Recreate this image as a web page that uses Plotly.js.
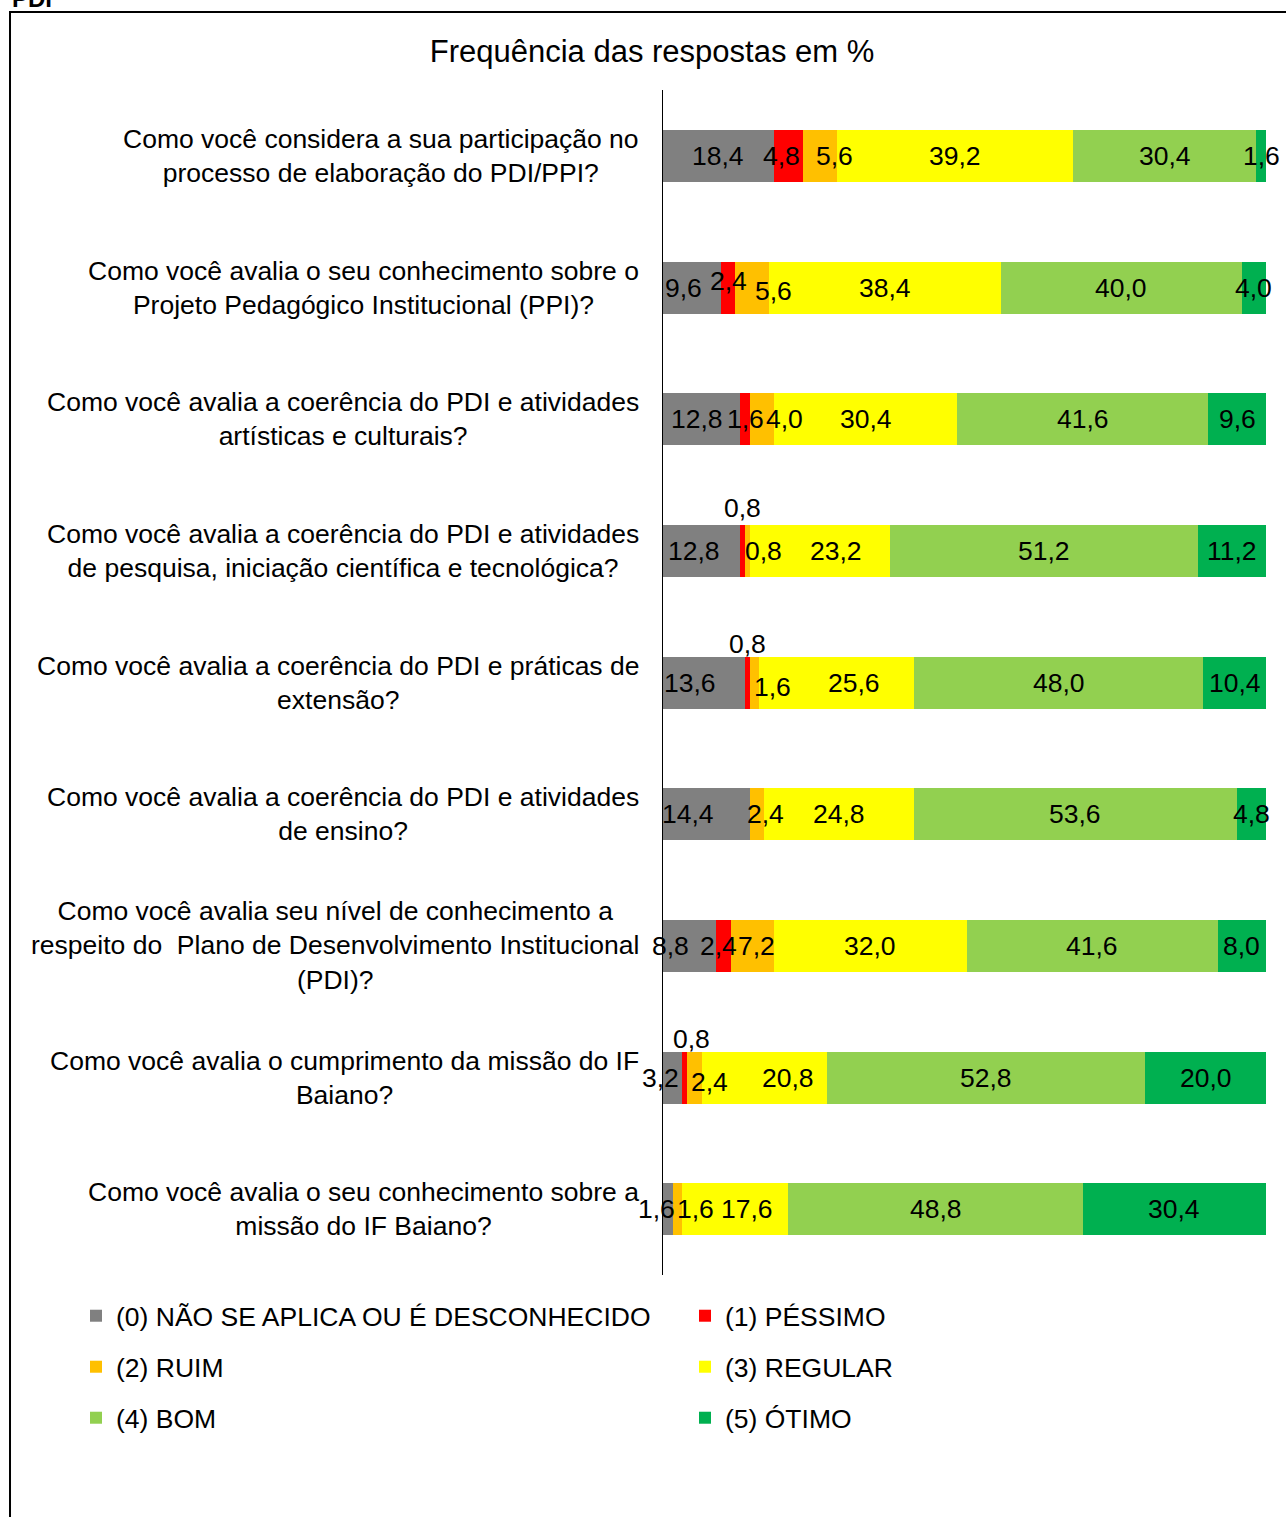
<!DOCTYPE html>
<html>
<head>
<meta charset="utf-8">
<script src="https://cdn.plot.ly/plotly-3.0.1.min.js"></script>
<style>html,body{margin:0;padding:0;background:#fff;}#chart{width:1286px;height:1517px;}</style>
</head>
<body>
<div id="chart"></div>
<script>
const categories = [
  "Como você considera a sua participação no<br>processo de elaboração do PDI/PPI?",
  "Como você avalia o seu conhecimento sobre o<br>Projeto Pedagógico Institucional (PPI)?",
  "Como você avalia a coerência do PDI e atividades<br>artísticas e culturais?",
  "Como você avalia a coerência do PDI e atividades<br>de pesquisa, iniciação científica e tecnológica?",
  "Como você avalia a coerência do PDI e práticas de<br>extensão?",
  "Como você avalia a coerência do PDI e atividades<br>de ensino?",
  "Como você avalia seu nível de conhecimento a<br>respeito do\u00a0 Plano de Desenvolvimento Institucional<br>(PDI)?",
  "Como você avalia o cumprimento da missão do IF<br>Baiano?",
  "Como você avalia o seu conhecimento sobre a<br>missão do IF Baiano?"
];
const seriesNames = ["(0) NÃO SE APLICA OU É DESCONHECIDO", "(1) PÉSSIMO", "(2) RUIM", "(3) REGULAR", "(4) BOM", "(5) ÓTIMO"];
const naoSeAplica = [18.4, 9.6, 12.8, 12.8, 13.6, 14.4, 8.8, 3.2, 1.6];
const pessimo     = [4.8, 2.4, 1.6, 0.8, 0.8, 0, 2.4, 0.8, 0];
const ruim        = [5.6, 5.6, 4.0, 0.8, 1.6, 2.4, 7.2, 2.4, 1.6];
const regular     = [39.2, 38.4, 30.4, 23.2, 25.6, 24.8, 32.0, 20.8, 17.6];
const bom         = [30.4, 40.0, 41.6, 51.2, 48.0, 53.6, 41.6, 52.8, 48.8];
const otimo       = [1.6, 4.0, 9.6, 11.2, 10.4, 4.8, 8.0, 20.0, 30.4];
const chartTitle = "Frequência das respostas em %";

const series = [naoSeAplica, pessimo, ruim, regular, bom, otimo];
const colors = ["#808080", "#FF0000", "#FFC000", "#FFFF00", "#92D050", "#00B050"];
const legendIds = ["legend", "legend2", "legend3", "legend4", "legend5", "legend6"];
// legend item placement (pixels): [left x, centre y]
const legendPos = [[76, 1316], [685, 1316], [76, 1367], [685, 1367], [76, 1418], [685, 1418]];
// label pixel offsets [xshift, yshift] per series per row
const labelShift = [
  [[0,0],[-8,0],[-5,0],[-8,0],[-14,0],[-18,0],[-19,0],[-12,0],[-11,0]],
  [[-7,0],[0,7],[0,0],[0,43],[0,39],[0,0],[-5,0],[7,39],[0,0]],
  [[15,0],[21,-3],[23,0],[16,0],[18,-4],[8,0],[4,0],[15,-4],[18,0]],
  [[0,0],[0,0],[0,0],[16,0],[17,0],[0,0],[0,0],[24,0],[12,0]],
  null, null
];

const FONT = "Liberation Sans, Arial, sans-serif";
const W = 1286, H = 1517;
const traces = series.map((vals, i) => ({
  type: "bar", orientation: "h", name: seriesNames[i],
  x: vals, y: categories,
  marker: {color: colors[i], line: {width: 0}},
  legend: legendIds[i], hoverinfo: "x+name"
}));

const annotations = [];
const cum = categories.map(() => 0);
series.forEach((vals, i) => {
  vals.forEach((v, r) => {
    if (v > 0) {
      const sh = labelShift[i] ? labelShift[i][r] : [0, 0];
      annotations.push({
        xref: "x", yref: "y", x: cum[r] + v / 2, y: categories[r],
        text: v.toFixed(1).replace(".", ","), showarrow: false,
        xshift: sh[0], yshift: sh[1],
        font: {family: FONT, size: 26.5, color: "#000"}
      });
    }
    cum[r] += v;
  });
});
categories.forEach(c => {
  annotations.push({
    xref: "paper", yref: "y", x: 0, y: c, xanchor: "right", xshift: -22,
    align: "center", text: c, showarrow: false,
    font: {family: FONT, size: 26.5, color: "#000"}
  });
});
annotations.push({
  xref: "paper", yref: "paper", x: -1.083, y: 1.0776, xanchor: "left", yanchor: "middle",
  text: "<b>PDI</b>", showarrow: false, font: {family: FONT, size: 24, color: "#000"}
});

const layout = {
  width: W, height: H,
  margin: {l: 663, r: 20, t: 90, b: 242},
  paper_bgcolor: "#fff", plot_bgcolor: "#fff",
  font: {family: FONT, size: 24, color: "#000"},
  title: {text: chartTitle, xref: "container", yref: "container", x: 652 / W, y: 1 - 51 / H,
          xanchor: "center", yanchor: "middle", font: {family: FONT, size: 31, color: "#000"}},
  barmode: "stack", bargap: 0.605,
  xaxis: {range: [0, 100], visible: false, fixedrange: true},
  yaxis: {autorange: "reversed", showticklabels: false, ticks: "", showgrid: false, zeroline: false,
          showline: true, linecolor: "#000", linewidth: 1.5},
  showlegend: true,
  annotations: annotations,
  shapes: [{type: "rect", xref: "paper", yref: "paper", x0: -1.0829, x1: 1.05, y0: -0.25, y1: 1.0658,
            line: {color: "#000", width: 2}, fillcolor: "rgba(0,0,0,0)", layer: "below"}]
};
legendIds.forEach((id, i) => {
  layout[id] = {
    orientation: "h", xref: "container", yref: "container", xanchor: "left", yanchor: "middle",
    x: legendPos[i][0] / W, y: 1 - legendPos[i][1] / H,
    font: {family: FONT, size: 26.5, color: "#000"}, bgcolor: "rgba(0,0,0,0)"
  };
});

Plotly.newPlot("chart", traces, layout, {displayModeBar: false, staticPlot: true});
</script>
</body>
</html>
